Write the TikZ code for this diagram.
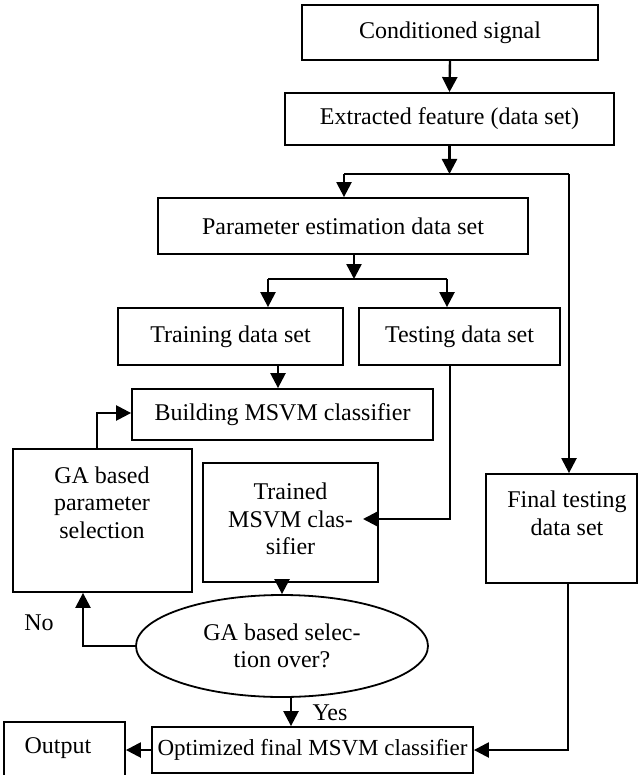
\documentclass[tikz,border=0pt]{standalone}
\usepackage{fontspec}
\setmainfont{Liberation Serif}
\usetikzlibrary{shapes.geometric,arrows.meta}
\tikzset{
  box/.style={draw,line width=0.9pt,inner sep=0pt,align=center,font=\fontsize{12}{13.5}\selectfont},
  txt/.style={inner sep=0pt,align=center,font=\fontsize{12}{13.75}\selectfont},
  conn/.style={line width=1.2pt},
  arr/.style={conn,-{Triangle[length=7.5pt,width=7.5pt]}},
}
\begin{document}
\begin{tikzpicture}[x=0.5pt,y=-0.5pt]
\useasboundingbox (0,0) rectangle (640,775);
% boxes
\node[box,minimum width=148pt,minimum height=27.5pt] (cond) at (450,32.5) {Conditioned signal};
\node[box,minimum width=164.5pt,minimum height=26pt] (extr) at (449.5,119) {Extracted feature (data set)};
\node[box,minimum width=185pt,minimum height=28pt] (param) at (343,226) {Parameter estimation data set};
\node[box,minimum width=112.5pt,minimum height=28.5pt] (train) at (230.5,336.5) {Training data set};
\node[box,minimum width=100.5pt,minimum height=28.5pt] (test) at (459.5,336.5) {Testing data set};
\node[box,minimum width=150.5pt,minimum height=25.5pt] (build) at (282.5,414.5) {Building MSVM classifier};
\node[box,minimum width=89.5pt,minimum height=71.5pt] (ga) at (102.5,520.5) {};
\node[txt] (gatext) at (102,502.5) {GA based\\parameter\\selection};
\node[box,minimum width=87.5pt,minimum height=59.5pt] (trained) at (290.5,522.5) {};
\node[txt] (trainedtext) at (290.5,519) {Trained\\MSVM clas-\\sifier};
\node[box,minimum width=75.5pt,minimum height=54.5pt] (final) at (561.5,528.5) {};
\node[txt] (finaltext) at (567,513.5) {Final testing\\data set};
\node[box,ellipse,minimum width=146pt,minimum height=51pt] (ell) at (282,646) {GA based selec-\\tion over?};
\node[box,minimum width=160.5pt,minimum height=23pt,font=\fontsize{11.5}{13.5}\selectfont] (opt) at (312.5,750) {Optimized final MSVM classifier};
\node[box,minimum width=60.5pt,minimum height=29pt] (out) at (64.5,751) {};
\node[txt] (outtext) at (58,748) {Output};
\node[txt] (no) at (39,623) {No};
\node[txt] (yes) at (330,713) {Yes};
% junction coordinates
\coordinate (j1) at (449.5,174);
\coordinate (j1l) at (344,174);
\coordinate (j1r) at (569,174);
\coordinate (j2) at (354,279);
\coordinate (j2l) at (268,279);
\coordinate (j2r) at (447,279);
\coordinate (tb) at (278,0);
\coordinate (tl) at (450,519);
\coordinate (tip) at (363,519);
\coordinate (gal) at (97,413);
\coordinate (nol) at (83,0);
\coordinate (yesx) at (291,0);
\coordinate (fl) at (568,750);
% connectors
\draw[arr] (cond.south) -- (extr.north);
\draw[arr] (extr.south) -- (j1);
\draw[conn] (j1l) -- (j1r);
\draw[arr] (j1l) -- (j1l |- param.north);
\draw[arr] (j1r) -- (j1r |- final.north);
\draw[arr] (j2 |- param.south) -- (j2);
\draw[conn] (j2l) -- (j2r);
\draw[arr] (j2l) -- (j2l |- train.north);
\draw[arr] (j2r) -- (j2r |- test.north);
\draw[arr] (tb |- train.south) -- (tb |- build.north);
\draw[arr] (tl |- test.south) -- (tl) -- (tip);
\draw[arr] (gal |- ga.north) -- (gal) -- (gal -| build.west);
\draw[arr] (ell.north |- trained.south) -- (ell.north);
\draw[arr] (ell.west) -- (nol |- ell.west) -- (nol |- ga.south);
\draw[arr] (yesx |- ell.south) -- (yesx |- opt.north);
\draw[arr] (fl |- final.south) -- (fl) -- (opt.east);
\draw[arr] (opt.west) -- (opt.west -| out.east);
\end{tikzpicture}
\end{document}
